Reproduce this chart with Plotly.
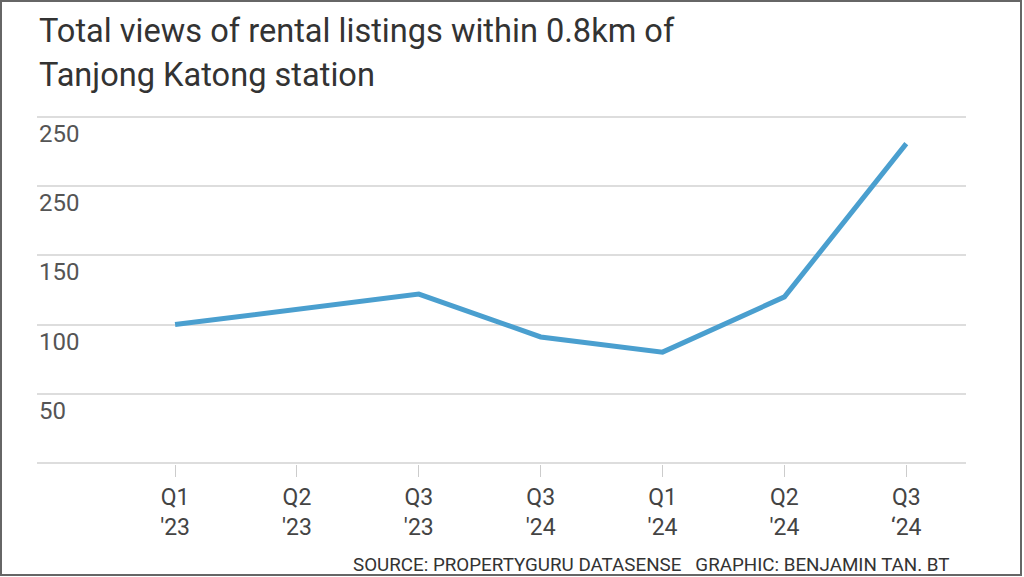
import plotly.graph_objects as go

# values
quarters = ["Q1<br>'23", "Q2<br>'23", "Q3<br>'23", "Q3<br>'24", "Q1<br>'24", "Q2<br>'24", "Q3<br>‘24"]
views = [100, 111, 122, 91, 80, 120, 231]
y_ticks = [50, 100, 150, 200, 250]
y_tick_labels = ["50", "100", "150", "250", "250"]

line_color = "#4a9fcf"
grid_color = "#dddddd"
text_color = "#444444"
font_main = "Roboto, 'Liberation Sans', sans-serif"

W, H = 1024, 577
ml, mr, mt, mb = 37, 58, 116, 113
pw, ph = W - ml - mr, H - mt - mb

x_idx = list(range(len(quarters)))

fig = go.Figure()
fig.add_trace(go.Scatter(
    x=x_idx,
    y=views,
    mode="lines",
    line=dict(color=line_color, width=5),
    cliponaxis=False,
    hoverinfo="skip",
))

annotations = []
# y labels sit just under their gridlines
for v, lab in zip(y_ticks, y_tick_labels):
    annotations.append(dict(
        x=0, xref="paper", xanchor="left",
        y=v, yref="y", yanchor="middle", yshift=-17,
        text=lab, showarrow=False,
        font=dict(family=font_main, size=24, color="#555555"),
    ))

# title, two lines
annotations.append(dict(
    x=0, xref="paper", xanchor="left",
    y=(mt - 31) / ph + 1, yref="paper", yanchor="middle",
    text="Total views of rental listings within 0.8km of", showarrow=False,
    font=dict(family=font_main, size=32.6, color="#333333"),
))
annotations.append(dict(
    x=0, xref="paper", xanchor="left",
    y=(mt - 75) / ph + 1, yref="paper", yanchor="middle",
    text="Tanjong Katong station", showarrow=False,
    font=dict(family=font_main, size=32.6, color="#333333"),
))
# source line
annotations.append(dict(
    x=(952 - ml) / pw, xref="paper", xanchor="right",
    y=-(565 - (H - mb)) / ph, yref="paper", yanchor="middle",
    text="SOURCE: PROPERTYGURU DATASENSE   GRAPHIC: BENJAMIN TAN. BT", showarrow=False,
    font=dict(family=font_main, size=18.8, color="#333333"),
))

# grey frame around the picture
frame = dict(
    type="rect", xref="paper", yref="paper",
    x0=(1 - ml) / pw, x1=(W - 3 - ml) / pw,
    y0=-(H - 2 - (H - mb)) / ph, y1=1 + (mt - 1) / ph,
    line=dict(color="#666666", width=2),
    fillcolor="rgba(0,0,0,0)",
)

fig.update_layout(
    width=W, height=H,
    margin=dict(l=ml, r=mr, t=mt, b=mb),
    paper_bgcolor="white",
    plot_bgcolor="white",
    showlegend=False,
    annotations=annotations,
    shapes=[frame],
    xaxis=dict(
        range=[-1.133, 6.49],
        tickvals=x_idx,
        ticktext=quarters,
        ticks="outside",
        ticklen=12,
        tickcolor="#cccccc",
        showgrid=False,
        zeroline=False,
        showline=False,
        tickfont=dict(family=font_main, size=23, color=text_color),
    ),
    yaxis=dict(
        # a hair of padding so the 0 and 250 gridlines are drawn
        range=[-1, 251],
        tickvals=[0] + y_ticks,
        showticklabels=False,
        showgrid=True,
        gridcolor=grid_color,
        gridwidth=2,
        zeroline=False,
        showline=False,
    ),
)

# drop the page's default body margin so the figure sits at the window corner
fig.write_html(
    "out.html",
    config={"displayModeBar": False},
    post_script="document.body.style.margin = '0';",
)
